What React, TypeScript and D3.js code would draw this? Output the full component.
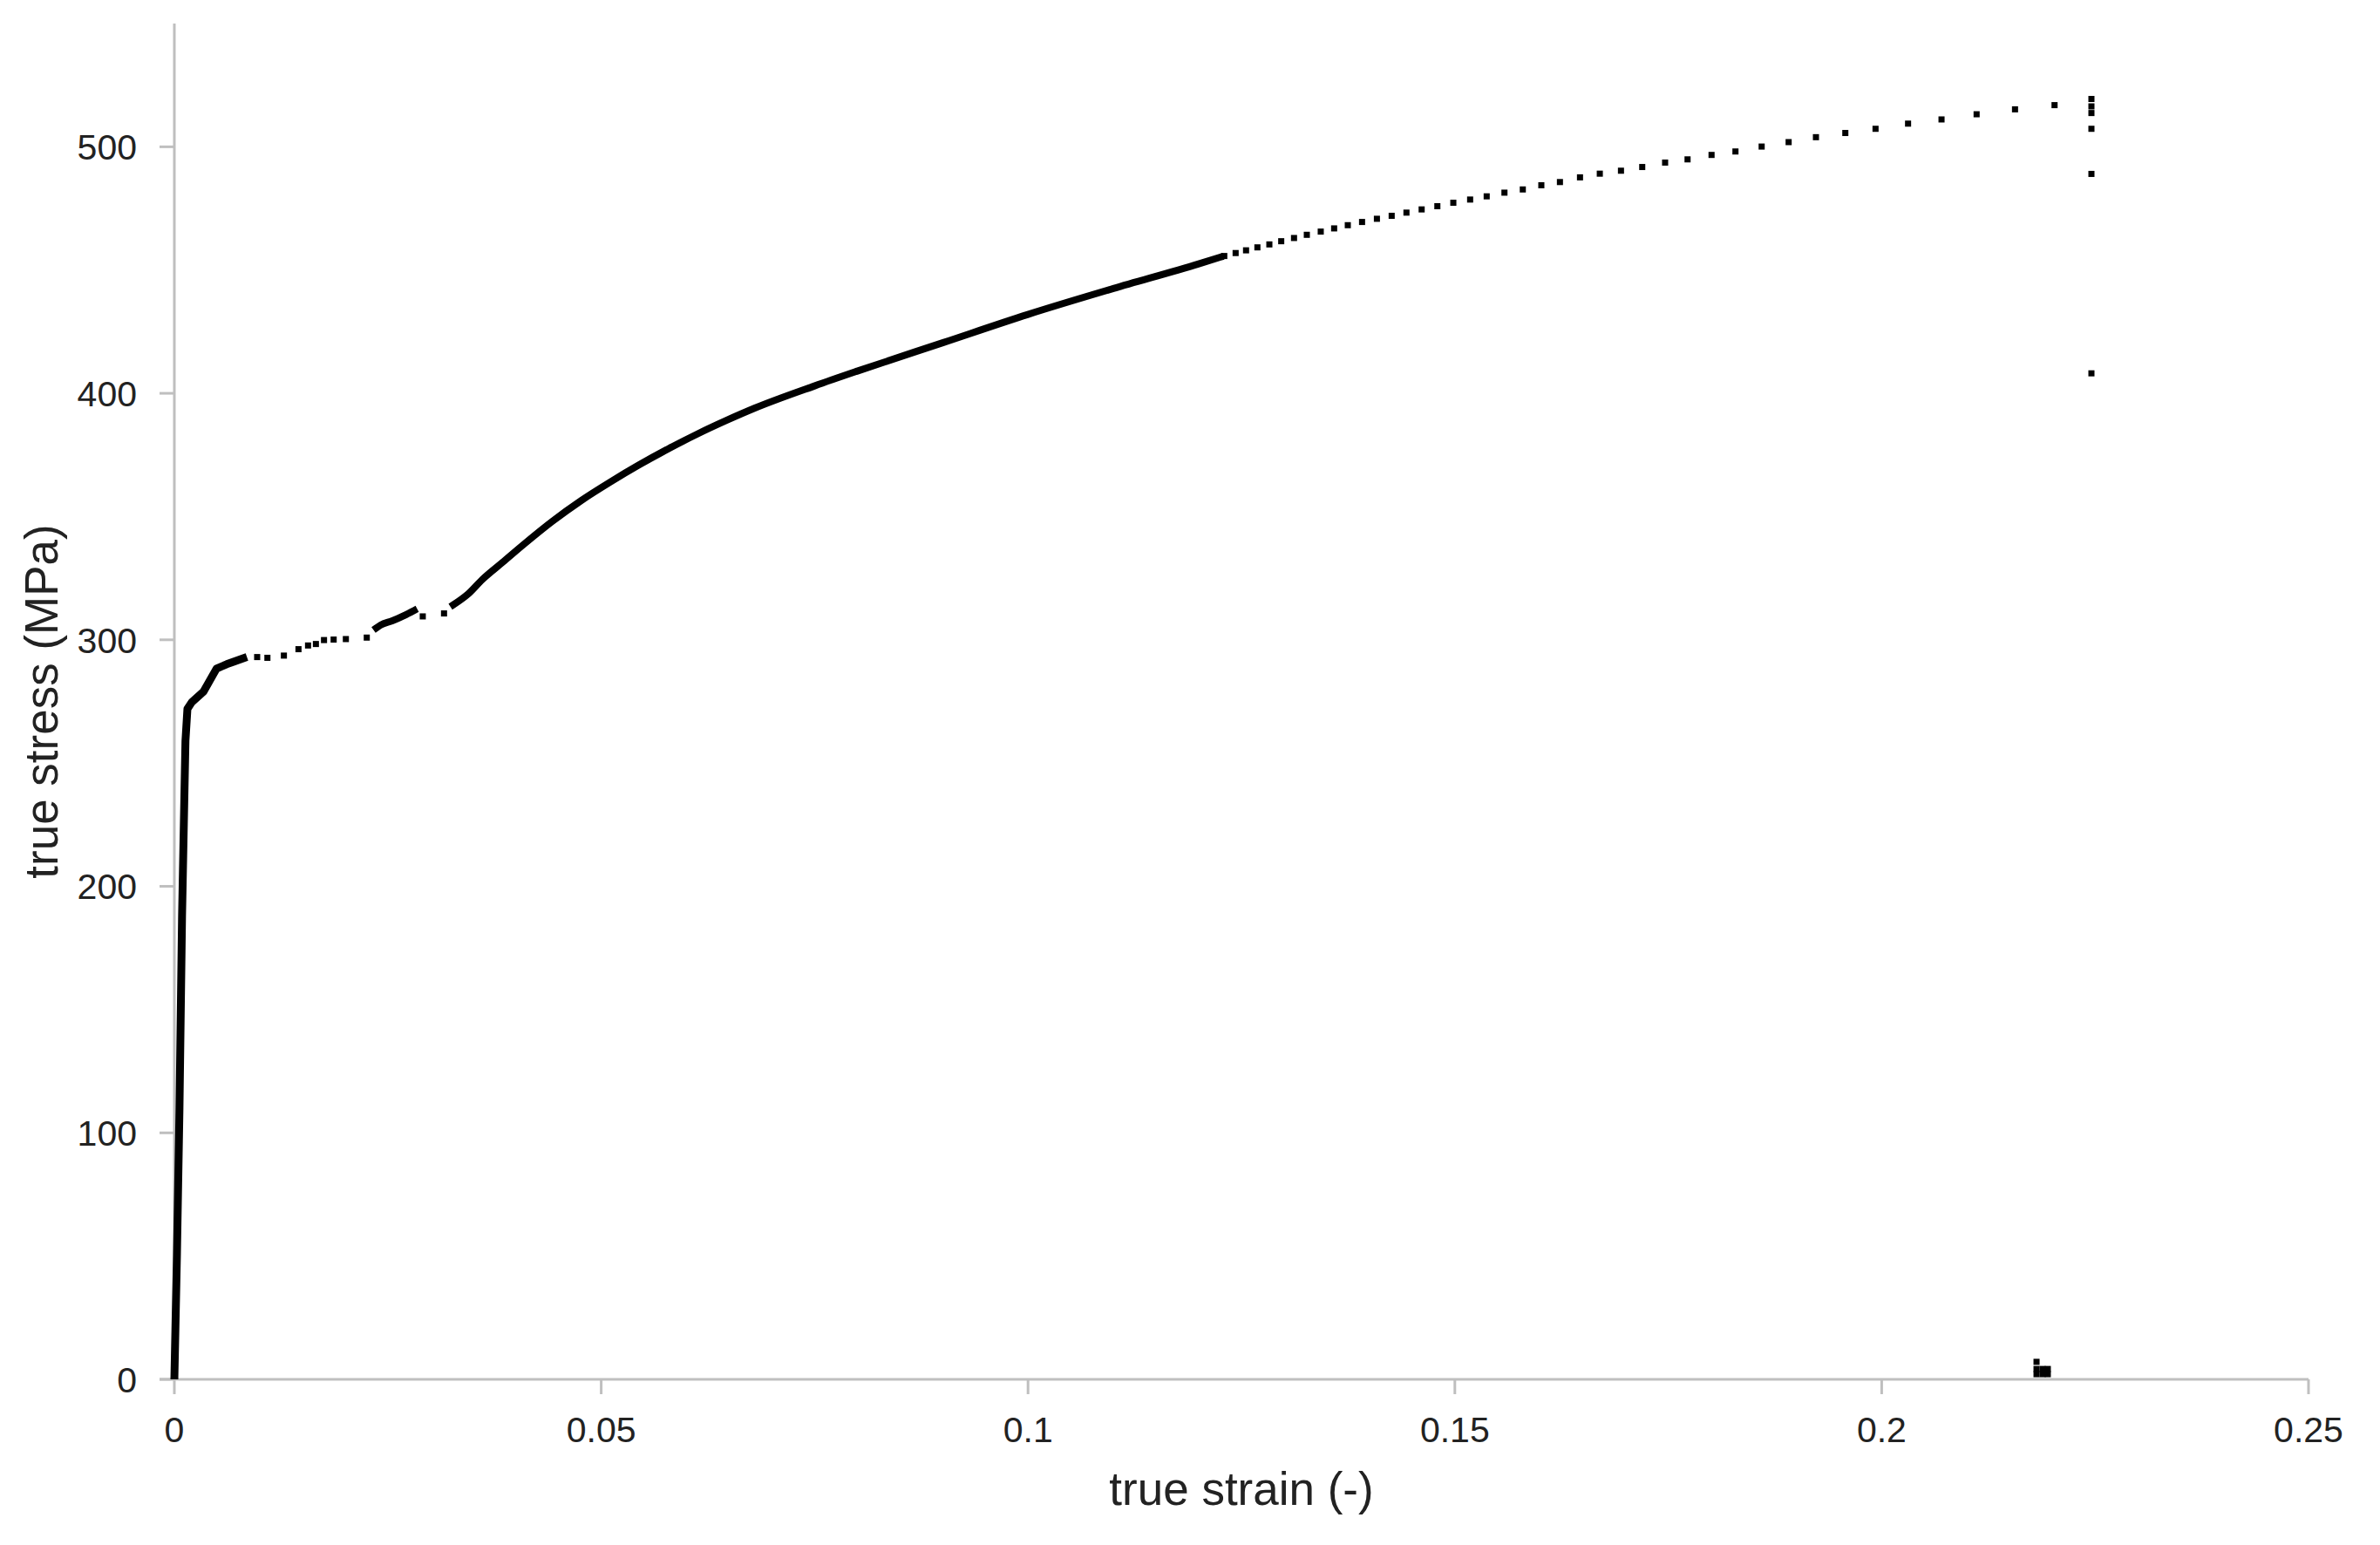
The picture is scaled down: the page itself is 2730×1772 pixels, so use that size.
import React from "react";
import * as d3 from "d3";

// ---- data: [true strain, true stress (MPa)] ----
// dense runs of points (drawn as a continuous thick trace)
const elasticSegment: [number, number][] = [
  [0, 0], [0.0003, 50], [0.0006, 110], [0.0009, 188], [0.0013, 259],
  [0.00153, 272], [0.00204, 274.7], [0.0034, 278.9], [0.00494, 288.3],
  [0.00613, 290.1], [0.0085, 293.0],
];
const ludersDense: [number, number][] = [
  [0.02366, 304.8], [0.02417, 306], [0.02553, 307.7], [0.02689, 309.8], [0.02808, 311.9],
];
const hardeningSegment: [number, number][] = [
  [0.03268, 314.2], [0.03438, 318.5], [0.03608, 324.5], [0.03847, 331.5],
  [0.04085, 338.5], [0.04425, 348], [0.04766, 356.5], [0.05106, 364],
  [0.05446, 371], [0.05787, 377.5], [0.06127, 383.5], [0.06467, 389],
  [0.068, 394], [0.075, 403], [0.08, 409], [0.09, 420.5], [0.1, 432],
  [0.11, 442.5], [0.12, 452.5], [0.1225, 455.2],
];
// isolated points
const ludersDots: [number, number][] = [
  [0.0097, 293], [0.0109, 292.7], [0.01283, 293.6], [0.01454, 296.2], [0.01566, 297.7],
  [0.01658, 298.3], [0.01753, 299.9], [0.01866, 300.1], [0.02009, 300.3], [0.02254, 300.9],
  [0.0291, 309.5], [0.03159, 310.7],
];
const upperDots: [number, number][] = [
  [0.12299, 455.7], [0.12432, 456.9], [0.12554, 458.0], [0.12687, 459.2], [0.12827, 460.4],
  [0.12966, 461.7], [0.13116, 463.0], [0.13266, 464.3], [0.13429, 465.6], [0.13586, 466.9],
  [0.13746, 468.2], [0.13913, 469.5], [0.14087, 470.8], [0.14260, 472.0], [0.14433, 473.3],
  [0.14611, 474.6], [0.14795, 475.9], [0.14982, 477.3], [0.15179, 478.6], [0.15373, 479.9],
  [0.15581, 481.4], [0.15796, 482.7], [0.16013, 484.4], [0.16231, 485.7], [0.16466, 487.6],
  [0.16698, 489.1], [0.16946, 490.3], [0.17195, 491.8], [0.17463, 493.6], [0.17726, 494.9],
  [0.18007, 496.7], [0.18287, 498.1], [0.18594, 500.1], [0.18910, 501.9], [0.19230, 503.9],
  [0.19574, 505.6], [0.19928, 507.3], [0.20309, 509.4], [0.20701, 511.1], [0.21112, 513.2],
  [0.21562, 515.2], [0.22025, 516.9],
];
const fractureDots: [number, number][] = [
  [0.22457, 519.4], [0.22457, 516.4], [0.22457, 513.7], [0.22457, 507.3],
  [0.22457, 489.0], [0.22457, 408.1],
];
const unloadDots: [number, number][] = [
  [0.21814, 7.1], [0.21814, 4.2], [0.21814, 2.1], [0.21885, 4.2], [0.21885, 2.1],
  [0.21946, 4.2], [0.21946, 2.1],
];

const xTicks = [0, 0.05, 0.1, 0.15, 0.2, 0.25];
const xTickLabels = ["0", "0.05", "0.1", "0.15", "0.2", "0.25"];
const yTicks = [0, 100, 200, 300, 400, 500];
const yTickLabels = ["0", "100", "200", "300", "400", "500"];

const W = 2730;
const H = 1772;
const left = 200;
const right = 2648;
const top = 27;
const bottom = 1582;

export default function App() {
  const x = d3.scaleLinear().domain([0, 0.25]).range([left, right]);
  const y = d3.scaleLinear().domain([0, 550]).range([bottom, top]);
  const line = d3
    .line<[number, number]>()
    .x((d) => x(d[0]))
    .y((d) => y(d[1]))
    .curve(d3.curveMonotoneX);
  const lineElastic = d3
    .line<[number, number]>()
    .x((d) => x(d[0]))
    .y((d) => y(d[1]));

  const axisColor = "#bfbfbf";
  const font = "'Liberation Sans', Arial, sans-serif";
  const ms = 7;
  const dots = [...ludersDots, ...upperDots, ...fractureDots, ...unloadDots];

  return (
    <svg
      width={W}
      height={H}
      style={{ position: "absolute", left: 0, top: 0, background: "#fff" }}
    >
      <rect x={0} y={0} width={W} height={H} fill="#fff" />
      {/* axes */}
      <line x1={left} x2={left} y1={top} y2={bottom} stroke={axisColor} strokeWidth={3} />
      <line x1={left - 17} x2={right} y1={bottom} y2={bottom} stroke={axisColor} strokeWidth={3} />
      {yTicks.map((t, i) => (
        <g key={"y" + i}>
          <line x1={left - 17} x2={left} y1={y(t)} y2={y(t)} stroke={axisColor} strokeWidth={3} />
          <text
            x={157}
            y={y(t)}
            dy="0.36em"
            textAnchor="end"
            fontFamily={font}
            fontSize={41}
            fill="#222"
          >
            {yTickLabels[i]}
          </text>
        </g>
      ))}
      {xTicks.map((t, i) => (
        <g key={"x" + i}>
          <line x1={x(t)} x2={x(t)} y1={bottom} y2={bottom + 17} stroke={axisColor} strokeWidth={3} />
          <text
            x={x(t)}
            y={1654}
            textAnchor="middle"
            fontFamily={font}
            fontSize={41}
            fill="#222"
          >
            {xTickLabels[i]}
          </text>
        </g>
      ))}
      {/* axis titles */}
      <text
        x={(left + right) / 2}
        y={1726}
        textAnchor="middle"
        fontFamily={font}
        fontSize={53}
        fill="#222"
      >
        true strain (-)
      </text>
      <text
        transform={`translate(66, ${(top + bottom) / 2}) rotate(-90)`}
        textAnchor="middle"
        fontFamily={font}
        fontSize={53}
        fill="#222"
      >
        true stress (MPa)
      </text>
      {/* data */}
      <path d={lineElastic(elasticSegment) || ""} fill="none" stroke="#000" strokeWidth={9} strokeLinejoin="round" />
      <path d={line(ludersDense) || ""} fill="none" stroke="#000" strokeWidth={8} strokeLinecap="square" />
      <path d={line(hardeningSegment) || ""} fill="none" stroke="#000" strokeWidth={8} strokeLinecap="square" />
      {dots.map((d, i) => (
        <rect
          key={"d" + i}
          x={x(d[0]) - ms / 2}
          y={y(d[1]) - ms / 2}
          width={ms}
          height={ms}
          fill="#000"
        />
      ))}
    </svg>
  );
}
